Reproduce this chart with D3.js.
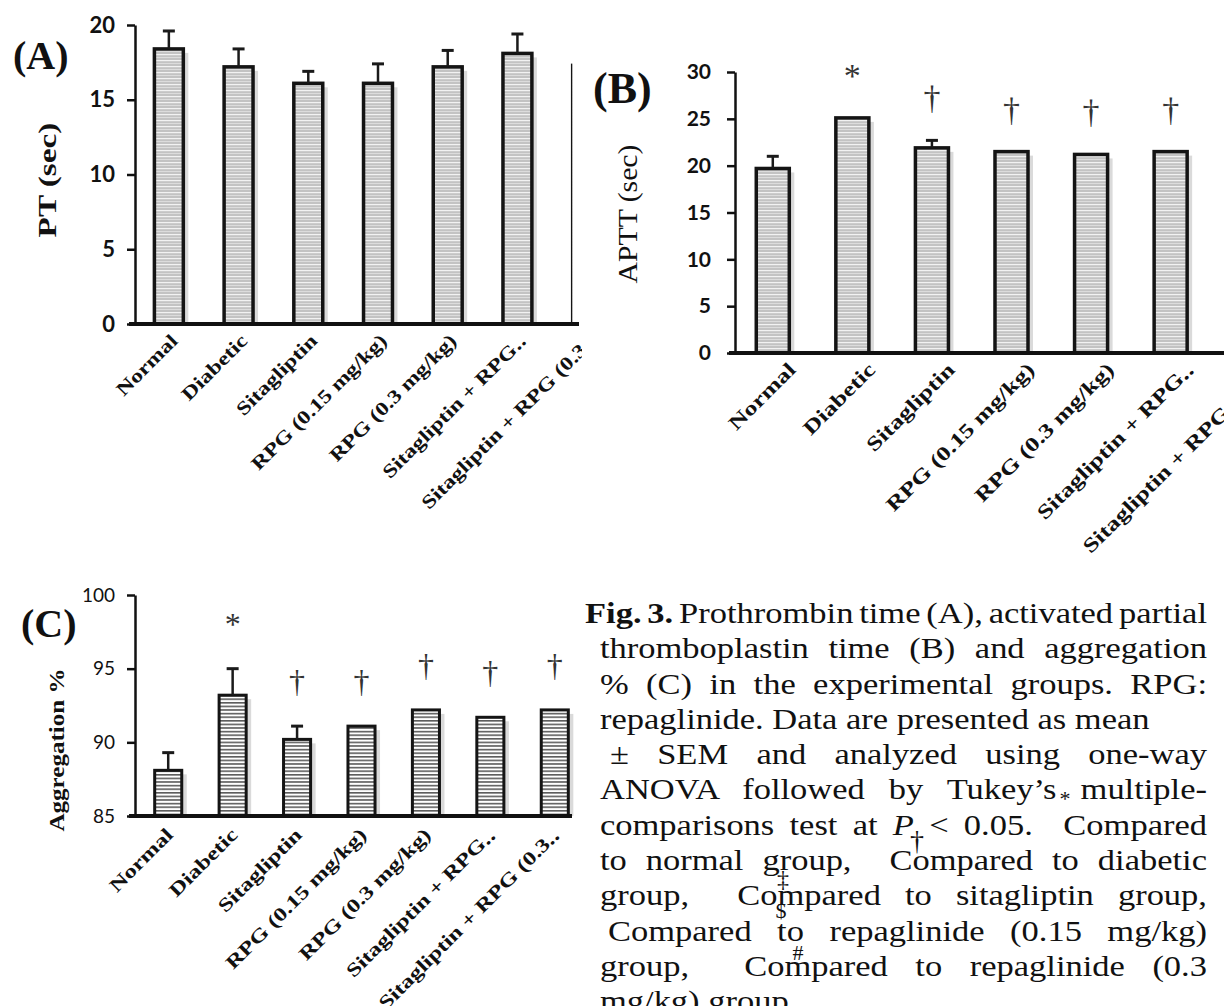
<!DOCTYPE html>
<html>
<head>
<meta charset="utf-8">
<script src="https://cdn.jsdelivr.net/npm/d3@7"></script>
<style>
body{margin:0;background:#fff}
</style>
</head>
<body>
<svg id="fig" width="1224" height="1006"></svg>
<script>
// groups shared by the three panels
var groups = ["Normal","Diabetic","Sitagliptin","RPG (0.15 mg/kg)","RPG (0.3 mg/kg)","Sitagliptin + RPG (0.15 mg/kg)","Sitagliptin + RPG (0.3 mg/kg)"];
var groupLabels = ["Normal","Diabetic","Sitagliptin","RPG (0.15 mg/kg)","RPG (0.3 mg/kg)","Sitagliptin + RPG\u2025","Sitagliptin + RPG (0.3\u2025"];

// (A) prothrombin time, sec
var ptMean = [18.4, 17.2, 16.1, 16.1, 17.2, 18.1, 17.3];
var ptSem  = [1.2, 1.2, 0.8, 1.3, 1.1, 1.3, 1.0];
var ptTicks = [0, 5, 10, 15, 20];

// (B) APTT, sec
var apttMean = [19.7, 25.1, 21.9, 21.5, 21.2, 21.5, 21.3];
var apttSem  = [1.3, 0, 0.8, 0, 0, 0, 0];
var apttSig  = ["", "*", "\u2020", "\u2020", "\u2020", "\u2020", "\u2020"];
var apttTicks = [0, 5, 10, 15, 20, 25, 30];

// (C) aggregation %
var aggMean = [88.1, 93.2, 90.2, 91.1, 92.2, 91.7, 92.2];
var aggSem  = [1.2, 1.8, 0.9, 0, 0, 0, 0];
var aggSig  = ["", "*", "\u2020", "\u2020", "\u2020", "\u2020", "\u2020"];
var aggTicks = [85, 90, 95, 100];

var svg = d3.select("#fig");
svg.append("rect").attr("width",1224).attr("height",1006).attr("fill","#fff");
var defs = svg.append("defs");

// striped bar fills
var pg = defs.append("pattern").attr("id","stripeGray").attr("patternUnits","userSpaceOnUse").attr("width",10).attr("height",6);
pg.append("rect").attr("width",10).attr("height",6).attr("fill","#c3c3c3");
pg.append("rect").attr("y",0).attr("width",10).attr("height",1.2).attr("fill","#f2f2f2");
pg.append("rect").attr("y",3).attr("width",10).attr("height",1).attr("fill","#dcdcdc");
var pd = defs.append("pattern").attr("id","stripeDark").attr("patternUnits","userSpaceOnUse").attr("width",10).attr("height",3.6);
pd.append("rect").attr("width",10).attr("height",3.6).attr("fill","#fff");
pd.append("rect").attr("y",0).attr("width",10).attr("height",1.6).attr("fill","#5c5c5c");

function addClip(id,w){
	defs.append("clipPath").attr("id",id).append("rect").attr("x",0).attr("y",0).attr("width",w).attr("height",1006);
	return "url(#"+id+")";
}

function drawPanel(p){
	var g = svg.append("g");
	var gl = svg.append("g");
	if(p.clipBars) g.attr("clip-path",addClip(p.id+"Bars",p.clipBars));
	if(p.clipLabels) gl.attr("clip-path",addClip(p.id+"Labs",p.clipLabels));
	var x = d3.scaleBand().domain(groups).range(p.xRange).paddingInner(p.pad).paddingOuter(p.pad/2);
	var y = d3.scaleLinear().domain([p.ticks[0], p.ticks[p.ticks.length-1]]).range(p.yRange);
	var base = y(p.ticks[0]);
	var rows = groups.map(function(d,i){
		return {g:d, m:p.mean[i], e:p.sem[i], s:p.sig ? p.sig[i] : "", lab:groupLabels[i]};
	});

	// shadow on the right of each bar
	g.selectAll("rect.shadow").data(rows).join("rect").attr("class","shadow")
		.attr("x",function(d){return x(d.g)+5;}).attr("y",function(d){return y(d.m)+4;})
		.attr("width",x.bandwidth()).attr("height",function(d){return base-y(d.m)-4;})
		.attr("fill","#dadada");
	g.selectAll("rect.bar").data(rows).join("rect").attr("class","bar")
		.attr("x",function(d){return x(d.g);}).attr("y",function(d){return y(d.m);})
		.attr("width",x.bandwidth()).attr("height",function(d){return base-y(d.m);})
		.attr("fill","url(#"+p.pattern+")").attr("stroke","#141414").attr("stroke-width",p.sw);

	// upper error bars only
	var eb = rows.filter(function(d){return d.e>0;});
	g.selectAll("line.err").data(eb).join("line").attr("class","err")
		.attr("x1",function(d){return x(d.g)+x.bandwidth()/2;}).attr("x2",function(d){return x(d.g)+x.bandwidth()/2;})
		.attr("y1",function(d){return y(d.m);}).attr("y2",function(d){return y(d.m+d.e);})
		.attr("stroke","#1a1a1a").attr("stroke-width",2.5);
	g.selectAll("line.cap").data(eb).join("line").attr("class","cap")
		.attr("x1",function(d){return x(d.g)+x.bandwidth()/2-6;}).attr("x2",function(d){return x(d.g)+x.bandwidth()/2+6;})
		.attr("y1",function(d){return y(d.m+d.e);}).attr("y2",function(d){return y(d.m+d.e);})
		.attr("stroke","#1a1a1a").attr("stroke-width",3);

	// significance marks
	g.selectAll("text.sig").data(rows.filter(function(d){return d.s;})).join("text").attr("class","sig")
		.attr("x",function(d){return x(d.g)+x.bandwidth()/2;})
		.attr("y",function(d){return y(d.m+d.e)-p.sigGap;})
		.attr("text-anchor","middle").attr("font-family","'Liberation Serif','Times New Roman',serif")
		.attr("font-size",p.sigSize).attr("fill","#333").text(function(d){return d.s;});

	// y axis
	var ya = svg.append("g").attr("transform","translate("+p.axisX+",0)")
		.call(d3.axisLeft(y).tickValues(p.ticks).tickSize(8).tickSizeOuter(0).tickPadding(p.tickPad));
	ya.select(".domain").attr("stroke","#111").attr("stroke-width",2.5);
	ya.selectAll(".tick line").attr("stroke","#111").attr("stroke-width",2.5);
	ya.selectAll(".tick text").attr("font-family","Lato,'Open Sans',sans-serif").attr("font-size",p.tickSize)
		.attr("font-weight",p.tickWeight).attr("fill","#111");

	// x axis line
	svg.append("line").attr("x1",p.axisX-6).attr("x2",p.xEnd).attr("y1",base).attr("y2",base)
		.attr("stroke","#111").attr("stroke-width",4);

	// rotated category labels
	gl.selectAll("text.cat").data(rows).join("text").attr("class","cat")
		.attr("transform",function(d){
			return "translate("+(x(d.g)+x.bandwidth()/2+p.labDx)+","+(base+p.labDy)+") rotate(-45) scale("+p.labSx+",1)";
		})
		.attr("text-anchor","end").attr("font-family","'Liberation Serif','Times New Roman',serif")
		.attr("font-weight","bold").attr("font-size",p.labSize).attr("fill","#111")
		.text(function(d){return d.lab;});

	// axis title
	svg.append("text").attr("transform","translate("+p.titleX+","+p.titleY+") rotate(-90) scale("+p.titleSx+",1)")
		.attr("text-anchor","middle").attr("font-family","'Liberation Serif','Times New Roman',serif")
		.attr("font-weight",p.titleWeight).attr("font-size",p.titleSize).attr("fill","#111").text(p.title);

	// panel letter
	svg.append("text").attr("x",p.letterX).attr("y",p.letterY)
		.attr("font-family","'Liberation Serif','Times New Roman',serif").attr("font-weight","bold")
		.attr("font-size",p.letterSize).attr("fill","#111").text(p.letter);
}

drawPanel({id:"a", mean:ptMean, sem:ptSem, sig:null, ticks:ptTicks,
	xRange:[134,622], pad:0.585, yRange:[324,25], axisX:135, xEnd:579, clipBars:572.3, clipLabels:582,
	pattern:"stripeGray", sw:3.5, sigGap:30, sigSize:34,
	tickPad:12, tickSize:22, tickWeight:"bold",
	labDx:10, labDy:18, labSx:1.25, labSize:19,
	title:"PT (sec)", titleX:56, titleY:180, titleSx:1.33, titleSize:25, titleWeight:"bold",
	letter:"(A)", letterX:13, letterY:69, letterSize:40});

drawPanel({id:"b", mean:apttMean, sem:apttSem, sig:apttSig, ticks:apttTicks,
	xRange:[733,1290], pad:0.585, yRange:[353,72], axisX:735, xEnd:1224, clipBars:null, clipLabels:null,
	pattern:"stripeGray", sw:3.5, sigGap:31, sigSize:34,
	tickPad:16, tickSize:21, tickWeight:"bold",
	labDx:24, labDy:18, labSx:1.3, labSize:20,
	title:"APTT (sec)", titleX:637, titleY:214, titleSx:1.1, titleSize:27, titleWeight:"normal",
	letter:"(B)", letterX:593, letterY:103, letterSize:44});

drawPanel({id:"c", mean:aggMean, sem:aggSem, sig:aggSig, ticks:aggTicks,
	xRange:[136,587], pad:0.58, yRange:[816,595], axisX:135, xEnd:572, clipBars:null, clipLabels:null,
	pattern:"stripeDark", sw:3, sigGap:34, sigSize:32,
	tickPad:12, tickSize:19, tickWeight:"normal",
	labDx:6, labDy:20, labSx:1.3, labSize:19,
	title:"Aggregation %", titleX:64, titleY:750, titleSx:1.14, titleSize:22, titleWeight:"bold",
	letter:"(C)", letterX:21, letterY:637, letterSize:40});

// caption, justified lines
var capFont = "'Liberation Serif','Times New Roman',serif";
var capSize = 30, capSx = 1.15, capTop = 623, capLead = 35.3, capRight = 1207;
var capLines = [
	{x:585, j:true, parts:[{t:"Fig. 3.",b:true},{t:" Prothrombin time (A), activated partial"}]},
	{x:600, j:true, parts:[{t:"thromboplastin time (B) and aggregation"}]},
	{x:600, j:true, parts:[{t:"% (C) in the experimental groups. RPG:"}]},
	{x:600, j:false, parts:[{t:"repaglinide. Data are presented as mean"}]},
	{x:610, j:true, parts:[{t:"\u00b1 SEM and analyzed using one-way"}]},
	{x:600, j:true, parts:[{t:"ANOVA followed by Tukey\u2019s multiple-"}]},
	{x:600, j:true, parts:[{t:"comparisons test at "},{t:"P",i:true},{t:" < 0.05.\u00a0 Compared"}]},
	{x:600, j:true, parts:[{t:"to normal group,\u00a0 Compared to diabetic"}]},
	{x:600, j:true, parts:[{t:"group,\u00a0 Compared to sitagliptin group,"}]},
	{x:608, j:true, parts:[{t:"Compared to repaglinide (0.15 mg/kg)"}]},
	{x:600, j:true, parts:[{t:"group,\u00a0 Compared to repaglinide (0.3"}]},
	{x:600, j:false, parts:[{t:"mg/kg) group."}]}
];
capLines.forEach(function(ln,k){
	var t = svg.append("text").attr("transform","scale("+capSx+",1)")
		.attr("x",ln.x/capSx).attr("y",capTop+k*capLead)
		.attr("font-family",capFont).attr("font-size",capSize).attr("fill","#111")
		.style("white-space","pre");
	ln.parts.forEach(function(p){
		t.append("tspan").attr("font-weight",p.b?"bold":"normal").attr("font-style",p.i?"italic":"normal").text(p.t);
	});
	if(ln.j){
		var full = ln.parts.map(function(p){return p.t;}).join("");
		// word-spacing also widens no-break spaces, so count both
		var gaps = (full.match(/[ \u00a0]/g) || []).length;
		var natural = t.node().getComputedTextLength();
		var extra = ((capRight-ln.x)/capSx-natural)/gaps;
		t.attr("word-spacing",extra);
		// check and correct once against the drawn width
		var drawn = t.node().getComputedTextLength();
		var diff = (capRight-ln.x)/capSx-drawn;
		if(Math.abs(diff)>1) t.attr("word-spacing",extra+diff/gaps);
	}
});

// displaced superscript symbols in the caption
var capMarks = [
	{s:"*", x:1065, y:806, f:22},
	{s:"\u2020", x:917, y:850, f:28},
	{s:"\u2021", x:783, y:887, f:24},
	{s:"$", x:781, y:918, f:22},
	{s:"#", x:798, y:960, f:22}
];
svg.selectAll("text.capmark").data(capMarks).join("text").attr("class","capmark")
	.attr("x",function(d){return d.x;}).attr("y",function(d){return d.y;})
	.attr("text-anchor","middle").attr("font-family",capFont).attr("font-size",function(d){return d.f;})
	.attr("fill","#111").text(function(d){return d.s;});
</script>
</body>
</html>
